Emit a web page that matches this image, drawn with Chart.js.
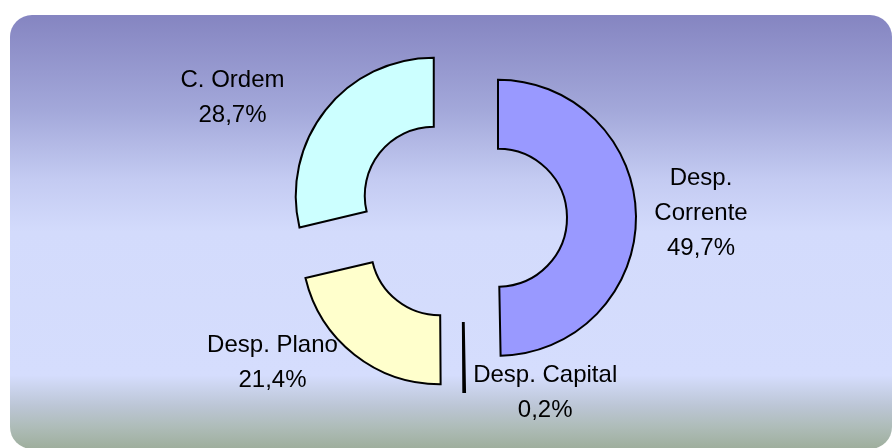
<!DOCTYPE html>
<html>
<head>
<meta charset="utf-8">
<script src="https://cdn.jsdelivr.net/npm/chart.js@4"></script>
<style>
  html, body { margin: 0; padding: 0; background: #fff; }
  #wrap { position: relative; width: 892px; height: 448px; overflow: hidden; }
  #panel {
    position: absolute; left: 10px; top: 15px; width: 882px; height: 434px;
    border-radius: 22px;
    background: linear-gradient(to bottom,
      #8585c1 0%, #a3a8da 22%, #c4cbf2 38%, #d3dbfc 50%, #d5ddfd 83%,
      #bcc6d6 90%, #aebcb8 95%, #9eae9c 100%);
  }
  #myChart { position: absolute; left: 0; top: 0; }
</style>
</head>
<body>
<div id="wrap">
  <div id="panel"></div>
  <canvas id="myChart" width="892" height="448"></canvas>
</div>
<script>
const labels = [['Desp.', 'Corrente'], 'Desp. Capital', 'Desp. Plano', 'C. Ordem'];
const values = [49.7, 0.2, 21.4, 28.7];
const percentText = ['49,7%', '0,2%', '21,4%', '28,7%'];
const colors = ['#9999ff', '#000000', '#ffffcc', '#ccffff'];

// how far each slice is pulled out, and where its label sits
const explode = 36;
const labelNudge = [[65, -3], [81, 1], [-82, 8], [-93, -12]];

const explodePlugin = {
  id: 'explode',
  beforeDatasetDraw(chart, args) {
    const ctx = chart.ctx;
    args.meta.data.forEach(arc => {
      const mid = (arc.startAngle + arc.endAngle) / 2;
      ctx.save();
      ctx.translate(Math.cos(mid) * explode, Math.sin(mid) * explode);
      arc.draw(ctx);
      ctx.restore();
    });
    return false;
  },
  afterDatasetsDraw(chart) {
    const ctx = chart.ctx;
    const meta = chart.getDatasetMeta(0);
    ctx.save();
    ctx.fillStyle = '#000';
    ctx.font = '24px "Liberation Sans", Arial, sans-serif';
    ctx.textAlign = 'center';
    ctx.textBaseline = 'middle';
    meta.data.forEach((arc, i) => {
      const mid = (arc.startAngle + arc.endAngle) / 2;
      const r = explode + arc.outerRadius;
      const x = arc.x + Math.cos(mid) * r + labelNudge[i][0];
      const y = arc.y + Math.sin(mid) * r + labelNudge[i][1];
      const lines = [].concat(labels[i], percentText[i]);
      const lh = 35;
      lines.forEach((t, k) => {
        ctx.fillText(t, x, y + (k - (lines.length - 1) / 2) * lh);
      });
    });
    ctx.restore();
  }
};

const ctx = document.getElementById('myChart');

new Chart(ctx, {
  type: 'doughnut',
  data: {
    labels: labels,
    datasets: [{
      data: values,
      backgroundColor: colors,
      borderColor: '#000',
      borderWidth: 2,
      borderJoinStyle: 'miter',
    }],
  },
  options: {
    responsive: false,
    animation: false,
    radius: 138,
    cutout: '50%',
    layout: { padding: { left: 32, right: 0, top: 0, bottom: 12 } },
    plugins: {
      legend: { display: false },
      tooltip: { enabled: false },
    },
  },
  plugins: [explodePlugin],
});
</script>
</body>
</html>
